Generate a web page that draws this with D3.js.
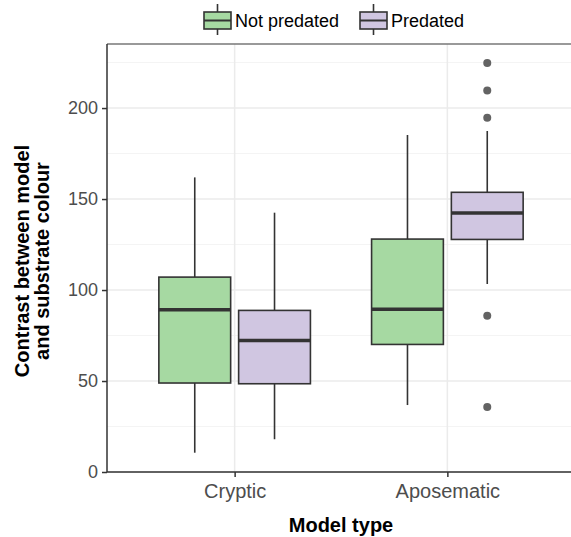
<!DOCTYPE html>
<html>
<head>
<meta charset="utf-8">
<script src="https://cdn.jsdelivr.net/npm/d3@7"></script>
<style>
body { margin: 0; background: #fff; }
text { font-family: "Liberation Sans", Arial, sans-serif; }
</style>
</head>
<body>
<script>
// categories and groups
var categories = ['Cryptic', 'Aposematic'];
var groups = ['Not predated', 'Predated'];
var colors = ['#a6d9a2', '#d0c6e1'];

// box stats per group, one value per category
var notPredLow = [10.6, 36.8];
var notPredQ1 = [48.9, 70.1];
var notPredMed = [89.2, 89.4];
var notPredQ3 = [107.1, 128.0];
var notPredHigh = [161.9, 185.2];
var notPredOut = [[], []];

var predLow = [18.0, 103.3];
var predQ1 = [48.5, 127.8];
var predMed = [72.3, 142.3];
var predQ3 = [88.8, 153.7];
var predHigh = [142.5, 187.4];
var predOut = [[], [224.7, 209.7, 194.7, 85.9, 35.7]];

var yTicks = [0, 50, 100, 150, 200];
var yMinor = [25, 75, 125, 175, 225];

var width = 571, height = 537;
var pLeft = 107, pTop = 44, pBottom = 472, pRight = 575;

var boxes = [];
categories.forEach(function (c, i) {
    boxes.push({cat: c, grp: groups[0], low: notPredLow[i], q1: notPredQ1[i], med: notPredMed[i], q3: notPredQ3[i], high: notPredHigh[i], out: notPredOut[i]});
    boxes.push({cat: c, grp: groups[1], low: predLow[i], q1: predQ1[i], med: predMed[i], q3: predQ3[i], high: predHigh[i], out: predOut[i]});
});

var x = d3.scalePoint().domain(categories).range([pLeft, pRight]).padding(0.6);
var step = x.step();
var xg = d3.scaleBand().domain(groups)
    .range([-0.375 * step, 0.375 * step])
    .paddingInner(0.1).paddingOuter(0.05);
var color = d3.scaleOrdinal().domain(groups).range(colors);

var y = d3.scaleLinear().domain([0, 235.2]).range([pBottom, pTop]);

var svg = d3.select('body').append('svg')
    .attr('width', width)
    .attr('height', height);

// grid
svg.selectAll('.minor').data(yMinor).enter().append('line')
    .attr('x1', pLeft).attr('x2', width)
    .attr('y1', function (d) { return y(d); })
    .attr('y2', function (d) { return y(d); })
    .attr('stroke', '#f4f4f4').attr('stroke-width', 1);
svg.selectAll('.major').data(yTicks).enter().append('line')
    .attr('x1', pLeft).attr('x2', width)
    .attr('y1', function (d) { return y(d); })
    .attr('y2', function (d) { return y(d); })
    .attr('stroke', '#ebebeb').attr('stroke-width', 1.5);
svg.selectAll('.vgrid').data(categories).enter().append('line')
    .attr('x1', function (d) { return x(d); })
    .attr('x2', function (d) { return x(d); })
    .attr('y1', pTop).attr('y2', pBottom)
    .attr('stroke', '#ebebeb').attr('stroke-width', 1.5);

// boxes
var g = svg.selectAll('.box').data(boxes).enter().append('g')
    .attr('transform', function (d) {
        return 'translate(' + (x(d.cat) + xg(d.grp) + xg.bandwidth() / 2) + ',0)';
    });
var bw = xg.bandwidth();
g.append('line')
    .attr('x1', 0).attr('x2', 0)
    .attr('y1', function (d) { return y(d.high); })
    .attr('y2', function (d) { return y(d.q3); })
    .attr('stroke', '#333').attr('stroke-width', 1.6);
g.append('line')
    .attr('x1', 0).attr('x2', 0)
    .attr('y1', function (d) { return y(d.q1); })
    .attr('y2', function (d) { return y(d.low); })
    .attr('stroke', '#333').attr('stroke-width', 1.6);
g.append('rect')
    .attr('x', -bw / 2).attr('width', bw)
    .attr('y', function (d) { return y(d.q3); })
    .attr('height', function (d) { return y(d.q1) - y(d.q3); })
    .attr('fill', function (d) { return color(d.grp); })
    .attr('stroke', '#333').attr('stroke-width', 1.6);
g.append('line')
    .attr('x1', -bw / 2).attr('x2', bw / 2)
    .attr('y1', function (d) { return y(d.med); })
    .attr('y2', function (d) { return y(d.med); })
    .attr('stroke', '#333').attr('stroke-width', 3.5);
g.selectAll('circle').data(function (d) { return d.out; }).enter().append('circle')
    .attr('cx', 0)
    .attr('cy', function (d) { return y(d); })
    .attr('r', 4)
    .attr('fill', '#636363');

// panel border and axes
svg.append('line').attr('x1', pLeft).attr('x2', width).attr('y1', pTop).attr('y2', pTop)
    .attr('stroke', '#777').attr('stroke-width', 1.5);

var yAxis = svg.append('g')
    .attr('transform', 'translate(' + pLeft + ',0)')
    .call(d3.axisLeft(y).tickValues(yTicks).tickSize(5).tickPadding(4));
var xAxis = svg.append('g')
    .attr('transform', 'translate(0,' + pBottom + ')')
    .call(d3.axisBottom(x).tickSize(5).tickPadding(7));
[yAxis, xAxis].forEach(function (a) {
    a.select('.domain').attr('stroke', '#333').attr('stroke-width', 1.5);
    a.selectAll('.tick line').attr('stroke', '#333').attr('stroke-width', 1.5);
    a.selectAll('text').attr('fill', '#4d4d4d').style('font-family', '"Liberation Sans", Arial, sans-serif');
});
xAxis.select('.domain').attr('d', 'M' + pLeft + ',0H' + width);
yAxis.select('.domain').attr('d', 'M0,' + pTop + 'V' + pBottom);
yAxis.selectAll('text').style('font-size', '18px');
xAxis.selectAll('text').style('font-size', '20px');

// axis titles
svg.append('text')
    .attr('x', (pLeft + pRight) / 2).attr('y', 532)
    .attr('text-anchor', 'middle')
    .style('font-size', '20px').style('font-weight', 'bold')
    .text('Model type');
var yt = svg.append('text')
    .attr('transform', 'translate(29,' + ((pTop + pBottom) / 2 + 3) + ') rotate(-90)')
    .attr('text-anchor', 'middle')
    .style('font-size', '20px').style('font-weight', 'bold');
yt.append('tspan').attr('x', 0).attr('y', 0).text('Contrast between model');
yt.append('tspan').attr('x', 0).attr('y', 20).text('and substrate colour');

// legend
var legendX = [204, 360];
var lg = svg.selectAll('.leg').data(groups).enter().append('g')
    .attr('transform', function (d, i) { return 'translate(' + legendX[i] + ',0)'; });
lg.append('line').attr('x1', 13.5).attr('x2', 13.5).attr('y1', 4).attr('y2', 35)
    .attr('stroke', '#333').attr('stroke-width', 1.6);
lg.append('rect').attr('x', 0).attr('y', 12).attr('width', 27).attr('height', 17)
    .attr('fill', function (d) { return color(d); })
    .attr('stroke', '#333').attr('stroke-width', 1.6);
lg.append('line').attr('x1', 0).attr('x2', 27).attr('y1', 20.5).attr('y2', 20.5)
    .attr('stroke', '#333').attr('stroke-width', 2);
lg.append('text').attr('x', 31).attr('y', 27)
    .style('font-size', '18px').attr('fill', '#000')
    .text(function (d) { return d; });
</script>
</body>
</html>
